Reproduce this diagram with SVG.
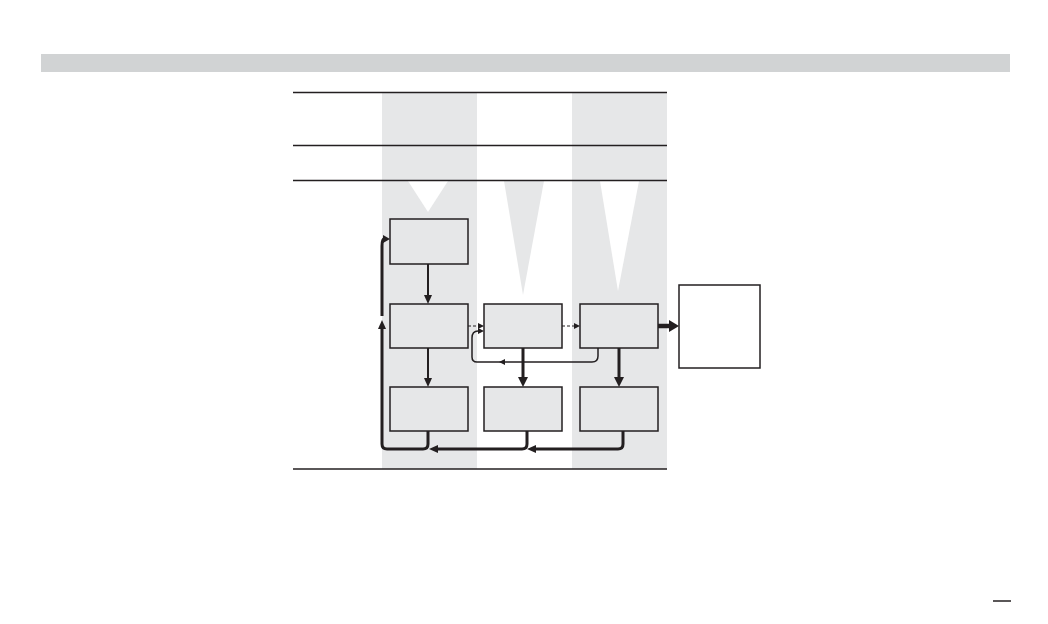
<svg xmlns="http://www.w3.org/2000/svg" width="1048" height="624" viewBox="0 0 1048 624">
<style>
.stripe{fill:#e6e7e8}
.rule{stroke:#231f20;stroke-width:1.5;fill:none}
.box{fill:#e6e7e8;stroke:#231f20;stroke-width:1.5}
.out{fill:#ffffff;stroke:#231f20;stroke-width:1.5}
.c{fill:none;stroke:#231f20;stroke-linejoin:round}
.w1{stroke-width:1.5}
.w2{stroke-width:2}
.w3{stroke-width:3}
.w4{stroke-width:4.5}
.dash{stroke-width:1;stroke-dasharray:3 2}
</style>
<defs>
<marker id="ah" markerUnits="userSpaceOnUse" markerWidth="10" markerHeight="8" refX="1" refY="4" orient="auto"><path d="M0,0 L9,4 L0,8 z" fill="#231f20"/></marker>
<marker id="ahb" markerUnits="userSpaceOnUse" markerWidth="11" markerHeight="10" refX="1" refY="5" orient="auto"><path d="M0,0 L10,5 L0,10 z" fill="#231f20"/></marker>
<marker id="aho" markerUnits="userSpaceOnUse" markerWidth="11" markerHeight="12" refX="1" refY="6" orient="auto"><path d="M0,0 L10,6 L0,12 z" fill="#231f20"/></marker>
<marker id="ahm" markerUnits="userSpaceOnUse" markerWidth="8" markerHeight="8" refX="1" refY="4" orient="auto"><path d="M0,0 L7,4 L0,8 z" fill="#231f20"/></marker>
<marker id="ahs" markerUnits="userSpaceOnUse" markerWidth="7" markerHeight="6" refX="1" refY="3" orient="auto"><path d="M0,0 L6,3 L0,6 z" fill="#231f20"/></marker>
</defs>
<rect x="41" y="54" width="969" height="18" fill="#d1d3d4"/>
<g id="stripes">
<rect class="stripe" x="382" y="92" width="95" height="377"/>
<rect class="stripe" x="572" y="92" width="95" height="377"/>
<polygon points="408,181 448,181 428,212" fill="#ffffff"/>
<polygon points="504,181 544,181 523,295" fill="#e6e7e8"/>
<polygon points="600,181 639,181 618,291" fill="#ffffff"/>
</g>
<g id="rules">
<line class="rule" x1="293" y1="92.5" x2="667" y2="92.5"/>
<line class="rule" x1="293" y1="145.5" x2="667" y2="145.5"/>
<line class="rule" x1="293" y1="180.5" x2="667" y2="180.5"/>
<line class="rule" x1="293" y1="469" x2="667" y2="469"/>
<line class="rule" x1="993" y1="601" x2="1011" y2="601"/>
</g>
<g id="nodeA"><rect class="box" x="390" y="219" width="78" height="45"/></g>
<g id="nodeB1"><rect class="box" x="390" y="304" width="78" height="44"/></g>
<g id="nodeB2"><rect class="box" x="484" y="304" width="78" height="44"/></g>
<g id="nodeB3"><rect class="box" x="580" y="304" width="78" height="44"/></g>
<g id="nodeC1"><rect class="box" x="390" y="387" width="78" height="44"/></g>
<g id="nodeC2"><rect class="box" x="484" y="387" width="78" height="44"/></g>
<g id="nodeC3"><rect class="box" x="580" y="387" width="78" height="44"/></g>
<g id="nodeOut"><rect class="out" x="679" y="285" width="81" height="83"/></g>
<g id="connectors">
<path class="c w2" d="M428,264 V296" marker-end="url(#ah)"/>
<path class="c w2" d="M428,348 V379" marker-end="url(#ah)"/>
<path class="c w3" d="M523,348 V378" marker-end="url(#ahb)"/>
<path class="c w3" d="M619,348 V378" marker-end="url(#ahb)"/>
<path class="c dash" d="M468,326 H479" marker-end="url(#ahs)"/>
<path class="c dash" d="M562,326 H575" marker-end="url(#ahs)"/>
<path class="c w4" d="M658,326 H670" marker-end="url(#aho)"/>
<path class="c w1" d="M598,348 V356 Q598,362 592,362 H504" marker-end="url(#ahs)"/>
<path class="c w1" d="M502,362 H477 Q472,362 472,357 V338 Q472,331 478,331 H479" marker-end="url(#ahs)"/>
<path class="c w3" d="M623,431 V444 Q623,449 618,449 H535" marker-end="url(#ah)"/>
<path class="c w3" d="M527,431 V444 Q527,449 522,449 H437" marker-end="url(#ah)"/>
<path class="c w3" d="M428,431 V444 Q428,449 423,449 H387 Q382,449 382,444 V328" marker-end="url(#ah)"/>
<path class="c w3" d="M382,316 V246 Q382,239 384,239" marker-end="url(#ahm)"/>
</g>
</svg>
